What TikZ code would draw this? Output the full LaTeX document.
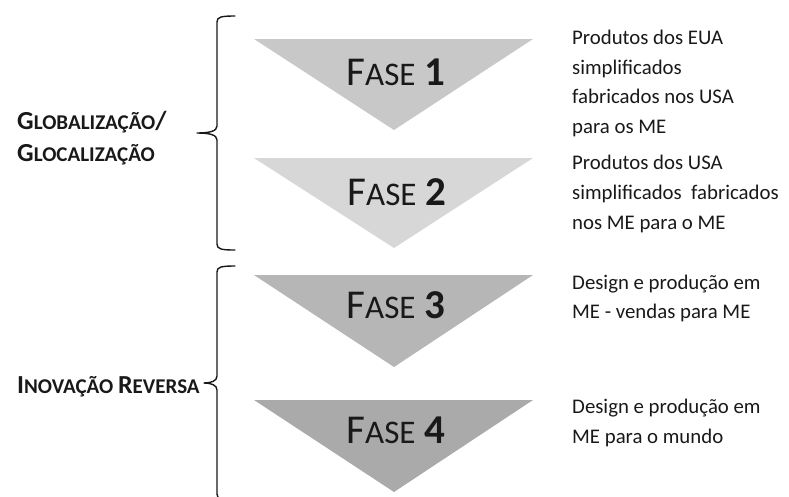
\documentclass[tikz,border=0pt]{standalone}
\usepackage{fontspec}
\setmainfont{Carlito}
\definecolor{triA}{RGB}{200,200,200}
\definecolor{triB}{RGB}{215,215,215}
\definecolor{triC}{RGB}{182,182,182}
\definecolor{triD}{RGB}{170,170,170}
\definecolor{ink}{RGB}{25,25,25}
\newcommand\faseBig{\fontsize{41}{41}\selectfont}
\newcommand\faseSmall{\fontsize{33}{33}\selectfont}
\newcommand\grpBig{\bfseries\fontsize{26}{26}\selectfont}
\newcommand\grpSmall{\bfseries\fontsize{21}{21}\selectfont}
\newcommand\fasetxt[1]{{\faseBig F}{\faseSmall ASE}{\faseBig\ \bfseries #1}}
\tikzset{
  tri/.style={draw=none},
  fasel/.style={anchor=base, inner sep=0pt, text=ink},
  desc/.style={anchor=base west, inner sep=0pt, text=ink, font=\fontsize{20.8}{20.8}\selectfont},
  grp/.style={anchor=base west, inner sep=0pt, text=ink},
  brace/.style={draw=ink, line width=1.4pt, line cap=round, line join=round}
}
\begin{document}
\begin{tikzpicture}[x=1pt,y=-1pt]
\useasboundingbox (0,0) rectangle (789,496);
% triangles
\fill[triA] (254,39) -- (533,39) -- (394,130) -- cycle;
\fill[triB] (254,158) -- (533,158) -- (394,248) -- cycle;
\fill[triC] (254,275) -- (533,275) -- (394,367) -- cycle;
\fill[triD] (254,400) -- (533,400) -- (394,492) -- cycle;
\node[fasel] (f1) at (396,85) {\fasetxt{1}};
\node[fasel] (f2) at (397,205) {\fasetxt{2}};
\node[fasel] (f3) at (396,318) {\fasetxt{3}};
\node[fasel] (f4) at (396,443) {\fasetxt{4}};
% descriptions
\node[desc] (d1a) at (572,44) {Produtos dos EUA};
\node[desc] (d1b) at (572,74) {simplificados};
\node[desc] (d1c) at (572,103) {fabricados nos USA};
\node[desc] (d1d) at (572,133) {para os ME};
\node[desc] (d2a) at (572,169) {Produtos dos USA};
\node[desc] (d2b) at (572,199) {simplificados\ \ fabricados};
\node[desc] (d2c) at (572,229) {nos ME para o ME};
\node[desc] (d3a) at (572,289) {Design e produção em};
\node[desc] (d3b) at (572,318) {ME - vendas para ME};
\node[desc] (d4a) at (572,413) {Design e produção em};
\node[desc] (d4b) at (572,443) {ME para o mundo};
% group labels
\node[grp] (g1a) at (17,129) {{\grpBig G}{\grpSmall LOBALIZAÇÃO}{\grpBig /}};
\node[grp] (g1b) at (17,161) {{\grpBig G}{\grpSmall LOCALIZAÇÃO}};
\node[grp] (g2) at (17,393) {{\grpBig I}{\grpSmall NOVAÇÃO\ }{\grpBig R}{\grpSmall EVERSA}};
% braces
\coordinate (b1tip) at (197,133);
\coordinate (b2tip) at (204,383);
\draw[brace] (235,16) .. controls (221,16) and (217,17) .. (217,22) -- (217,126)
  .. controls (217,131) and (210,133) .. (b1tip)
  .. controls (210,133) and (217,135) .. (217,140) -- (217,244)
  .. controls (217,249) and (221,250) .. (235,250);
\draw[brace] (235,266) .. controls (221,266) and (217,267) .. (217,272) -- (217,376)
  .. controls (217,381) and (211,383) .. (b2tip)
  .. controls (211,383) and (217,385) .. (217,390) -- (217,494)
  .. controls (217,499) and (221,500) .. (235,500);
\end{tikzpicture}
\end{document}
